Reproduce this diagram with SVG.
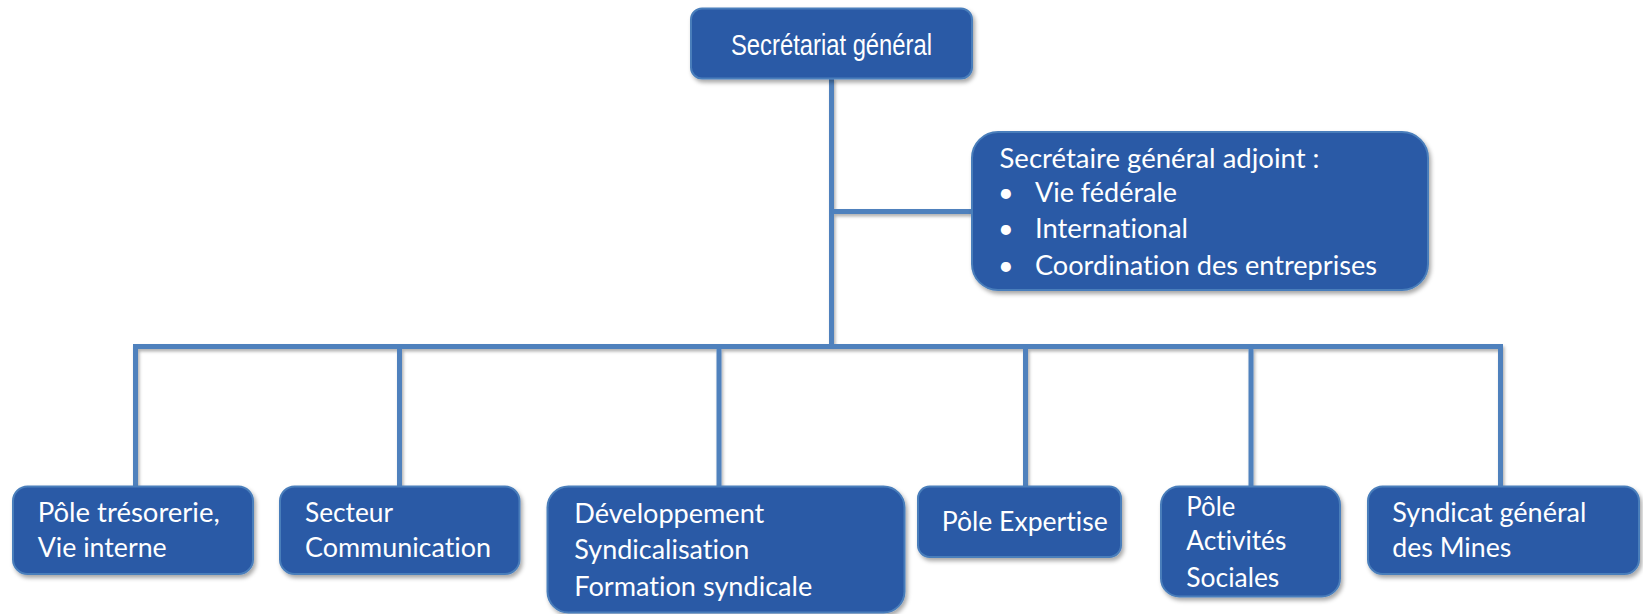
<svg xmlns="http://www.w3.org/2000/svg" width="1643" height="614" viewBox="0 0 1643 614">
  <defs>
    <filter id="sh" x="-10%" y="-10%" width="130%" height="140%">
      <feDropShadow dx="2" dy="3" stdDeviation="2.2" flood-color="#000" flood-opacity="0.35"/>
    </filter>
    <filter id="lsh" x="-5%" y="-5%" width="110%" height="110%">
      <feDropShadow dx="1.5" dy="2.5" stdDeviation="1.8" flood-color="#000" flood-opacity="0.3"/>
    </filter>
    <style>
      .box { fill: #2a5aa6; stroke: #4a7ebb; stroke-width: 2; filter: url(#sh); }
      .t { font-family: Lato, "Open Sans", "DejaVu Sans", sans-serif; font-size: 27px; fill: #ffffff; font-variant-ligatures: none; }
      .ta { font-family: "Liberation Sans", Arial, sans-serif; font-size: 30px; fill: #ffffff; }
      .ln { fill: none; stroke: #4f81bd; stroke-width: 5; stroke-linejoin: miter; stroke-linecap: butt; }
    </style>
  </defs>
  <rect width="1643" height="614" fill="#ffffff"/>

  <g id="connectors" filter="url(#lsh)">
    <path class="ln" d="M831.5,78 V346.5"/>
    <path class="ln" d="M831.5,211.5 H972"/>
    <path class="ln" d="M135.5,487 V346.5 H1500.5 V487"/>
    <path class="ln" d="M399.5,346.5 V487"/>
    <path class="ln" d="M719,346.5 V487"/>
    <path class="ln" d="M1025.5,346.5 V487"/>
    <path class="ln" d="M1251,346.5 V487"/>
  </g>

  <g id="secretariat-general">
    <rect class="box" x="691" y="8.5" width="281" height="70" rx="11"/>
    <text class="ta" x="731" y="55" textLength="201" lengthAdjust="spacingAndGlyphs">Secrétariat général</text>
  </g>

  <g id="sg-adjoint">
    <rect class="box" x="972" y="132" width="456" height="158" rx="26"/>
    <text class="t" x="999.5" y="168.3" textLength="320" lengthAdjust="spacingAndGlyphs">Secrétaire général adjoint :</text>
    <text class="t" x="998" y="201.7">•</text>
    <text class="t" x="1035" y="201.7" textLength="142" lengthAdjust="spacingAndGlyphs">Vie fédérale</text>
    <text class="t" x="998" y="238.3">•</text>
    <text class="t" x="1035" y="238.3" textLength="153" lengthAdjust="spacingAndGlyphs">International</text>
    <text class="t" x="998" y="275">•</text>
    <text class="t" x="1035" y="275" textLength="342" lengthAdjust="spacingAndGlyphs">Coordination des entreprises</text>
  </g>

  <g id="pole-tresorerie">
    <rect class="box" x="13" y="486.5" width="240" height="87.5" rx="14.6"/>
    <text class="t" x="37.7" y="522.3" textLength="182" lengthAdjust="spacingAndGlyphs">Pôle trésorerie,</text>
    <text class="t" x="37.7" y="557.3" textLength="129" lengthAdjust="spacingAndGlyphs">Vie interne</text>
  </g>

  <g id="secteur-communication">
    <rect class="box" x="280" y="486.5" width="239.5" height="87.5" rx="14.6"/>
    <text class="t" x="305" y="522.3" textLength="88" lengthAdjust="spacingAndGlyphs">Secteur</text>
    <text class="t" x="305" y="557.3" textLength="186" lengthAdjust="spacingAndGlyphs">Communication</text>
  </g>

  <g id="developpement">
    <rect class="box" x="547.5" y="486.5" width="357" height="126" rx="21"/>
    <text class="t" x="574.3" y="523.3" textLength="190" lengthAdjust="spacingAndGlyphs">Développement</text>
    <text class="t" x="574.3" y="559.3" textLength="175" lengthAdjust="spacingAndGlyphs">Syndicalisation</text>
    <text class="t" x="574.3" y="596" textLength="238" lengthAdjust="spacingAndGlyphs">Formation syndicale</text>
  </g>

  <g id="pole-expertise">
    <rect class="box" x="918" y="486.5" width="203" height="70.5" rx="11.7"/>
    <text class="t" x="941.7" y="531" textLength="166" lengthAdjust="spacingAndGlyphs">Pôle Expertise</text>
  </g>

  <g id="pole-activites-sociales">
    <rect class="box" x="1161" y="486.5" width="179" height="110" rx="18.3"/>
    <text class="t" x="1186.3" y="515.7" textLength="49" lengthAdjust="spacingAndGlyphs">Pôle</text>
    <text class="t" x="1186.3" y="550" textLength="100" lengthAdjust="spacingAndGlyphs">Activités</text>
    <text class="t" x="1186.3" y="586.7" textLength="93" lengthAdjust="spacingAndGlyphs">Sociales</text>
  </g>

  <g id="syndicat-mines">
    <rect class="box" x="1368" y="486.5" width="271" height="87.5" rx="14.6"/>
    <text class="t" x="1392.3" y="522.3" textLength="194" lengthAdjust="spacingAndGlyphs">Syndicat général</text>
    <text class="t" x="1392.3" y="557.3" textLength="119" lengthAdjust="spacingAndGlyphs">des Mines</text>
  </g>
</svg>
